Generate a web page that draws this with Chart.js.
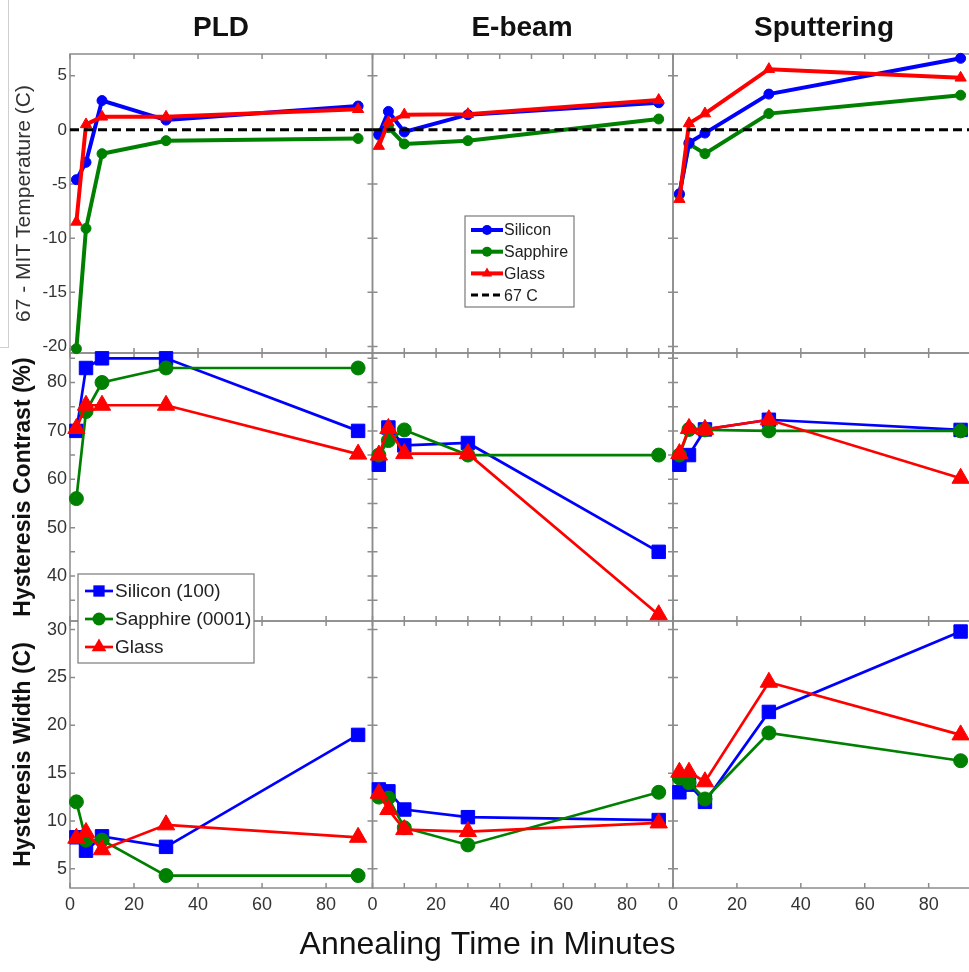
<!DOCTYPE html>
<html>
<head>
<meta charset="utf-8">
<script src="https://cdn.jsdelivr.net/npm/chart.js@4.4.1/dist/chart.umd.min.js"></script>
<style>
  body { margin: 0; background: #fff; overflow: hidden; }
  #wrap { position: relative; width: 969px; height: 972px; overflow: hidden; }
  #figChart { position: absolute; left: 0; top: 0; }
  #edge { position: absolute; left: 0; top: 0; width: 8px; height: 347px;
    border-right: 1px solid #cfcfcf; border-bottom: 1px solid #cfcfcf; }
  .colTitle {
    position: absolute; top: 13px; width: 300px; text-align: center;
    font: bold 28px "Liberation Sans", Arial, sans-serif; line-height: 28px; color: #111;
  }
</style>
</head>
<body>
<div id="wrap">
  <div id="edge"></div>
  <!-- the right-hand panel runs past the picture edge, as in the source figure -->
  <canvas id="figChart" width="976" height="972"></canvas>
  <div class="colTitle" style="left:71px">PLD</div>
  <div class="colTitle" style="left:372px">E-beam</div>
  <div class="colTitle" style="left:674px">Sputtering</div>
</div>
<script>
// annealing times (minutes)
const times = [2, 5, 10, 30, 90];
const methods = ['PLD', 'E-beam', 'Sputtering'];

// 67 - MIT temperature (C), one row per method: PLD, E-beam, Sputtering
const mitSilicon = [
	[-4.6, -3.0, 2.7, 0.9, 2.2],
	[-0.4, 1.7, -0.2, 1.4, 2.5],
	[-5.9, -1.2, -0.3, 3.3, 6.6],
];
const mitSapphire = [
	[-20.2, -9.1, -2.2, -1.0, -0.8],
	[-0.5, 0.2, -1.3, -1.0, 1.0],
	[-6.0, -1.3, -2.2, 1.5, 3.2],
];
const mitGlass = [
	[-8.5, 0.5, 1.2, 1.2, 1.9],
	[-1.5, 0.7, 1.4, 1.45, 2.75],
	[-6.4, 0.6, 1.5, 5.6, 4.8],
];
const refLevel = 0; // 67 C line

// hysteresis contrast (%)
const contrastSilicon = [
	[70, 83, 85, 85, 70],
	[63, 70.7, 67, 67.5, 45],
	[63, 65, 70.3, 72.3, 70.2],
];
const contrastSapphire = [
	[56, 74, 80, 83, 83],
	[65, 68, 70.2, 65, 65],
	[65, 70.3, 70.2, 70, 70],
];
const contrastGlass = [
	[70.5, 75.3, 75.3, 75.3, 65.2],
	[65, 70.5, 65.3, 65.3, 32],
	[65.3, 70.5, 70.3, 72.3, 60.2],
];

// hysteresis width (C)
const widthSilicon = [
	[8.3, 6.9, 8.4, 7.3, 19],
	[13.3, 13.1, 11.2, 10.4, 10.1],
	[13, 13.8, 12, 21.4, 29.8],
];
const widthSapphire = [
	[12, 8, 8, 4.3, 4.3],
	[12.5, 12.4, 9.3, 7.5, 13],
	[14.5, 14, 12.3, 19.2, 16.3],
];
const widthGlass = [
	[8.2, 8.8, 7.0, 9.6, 8.3],
	[12.9, 11.2, 9.1, 8.9, 9.8],
	[15.1, 15.1, 14.1, 24.5, 19],
];

const xMax = [94.5, 94.5, 94.5];

const BLUE = '#0000ff', GREEN = '#008000', RED = '#ff0000';
const xIds = ['x1', 'x2', 'x3'];

function series(values, label, color, style, yId, lw, radius, order) {
	return values.map((vals, m) => ({
		type: 'line',
		label: label,
		xAxisID: xIds[m],
		yAxisID: yId,
		data: times.map((t, i) => ({ x: t, y: vals[i] })),
		borderColor: color,
		backgroundColor: color,
		pointBackgroundColor: color,
		pointBorderColor: color,
		pointBorderWidth: 1,
		borderWidth: lw,
		pointStyle: style,
		pointRadius: radius,
		clip: false,
		order: order,
	}));
}

let datasets = [];
datasets = datasets.concat(series(mitSilicon, 'Silicon', BLUE, 'circle', 'y1', 4, 5, 2));
datasets = datasets.concat(series(mitSapphire, 'Sapphire', GREEN, 'circle', 'y1', 4, 5, 3));
datasets = datasets.concat(series(mitGlass, 'Glass', RED, 'triangle', 'y1', 4, 6.5, 1));
xIds.forEach((xid, m) => {
	datasets.push({
		type: 'line',
		label: '67 C',
		xAxisID: xid,
		yAxisID: 'y1',
		data: [{ x: 0, y: refLevel }, { x: xMax[m], y: refLevel }],
		borderColor: '#000',
		borderWidth: 3,
		borderDash: [9, 5],
		pointRadius: 0,
		clip: false,
		order: 0,
	});
});
datasets = datasets.concat(series(contrastSilicon, 'Silicon (100)', BLUE, 'rect', 'y2', 2.7, 9.5, 3));
datasets = datasets.concat(series(contrastSapphire, 'Sapphire (0001)', GREEN, 'circle', 'y2', 2.7, 7, 2));
datasets = datasets.concat(series(contrastGlass, 'Glass', RED, 'triangle', 'y2', 2.7, 10, 1));
datasets = datasets.concat(series(widthSilicon, 'Silicon (100)', BLUE, 'rect', 'y3', 2.7, 9.5, 3));
datasets = datasets.concat(series(widthSapphire, 'Sapphire (0001)', GREEN, 'circle', 'y3', 2.7, 7, 2));
datasets = datasets.concat(series(widthGlass, 'Glass', RED, 'triangle', 'y3', 2.7, 10, 1));

Chart.defaults.font.family = '"Liberation Sans", Arial, sans-serif';
Chart.defaults.color = '#222';

function xAxis(i, step, weight) {
	return {
		type: 'linear',
		position: 'bottom',
		stack: 'cols',
		stackWeight: weight,
		weight: i + 1,
		min: 0,
		max: xMax[i],
		grid: { display: false, drawTicks: false },
		border: { display: false },
		ticks: {
			stepSize: step,
			includeBounds: false,
			autoSkip: false,
			maxRotation: 0,
			padding: 6,
			color: '#333',
			font: { size: 18 },
			callback: (v) => (v % 20 === 0 ? v : ''),
		},
		afterFit: (s) => { s.height = 37.6; s.paddingLeft = 0; s.paddingRight = 0; },
	};
}

function yAxis(weightOrder, stackWeight, min, max, step, labelEvery, title, bold, size, tickSize) {
	return {
		type: 'linear',
		position: 'left',
		stack: 'rows',
		stackWeight: stackWeight,
		weight: weightOrder,
		min: min,
		max: max,
		grid: { display: false, drawTicks: false },
		border: { display: false },
		ticks: {
			stepSize: step,
			includeBounds: false,
			autoSkip: false,
			padding: 3,
			color: '#333',
			font: { size: tickSize },
			callback: (v) => (v % labelEvery === 0 ? v : ''),
		},
		title: {
			display: true,
			text: title,
			color: bold ? '#111' : '#333',
			font: { size: size, weight: bold ? 'bold' : 'normal' },
			padding: { top: bold ? 10.2 : 11.4, bottom: 0 },
		},
		afterFit: (s) => { s.width = 70; },
	};
}

// panel frames with inward ticks on every side
const framePlugin = {
	id: 'frames',
	beforeDatasetsDraw(chart) {
		const ctx = chart.ctx;
		ctx.save();
		ctx.strokeStyle = '#8c8c8c';
		ctx.lineWidth = 1.5;
		['x1', 'x2', 'x3'].forEach((xid) => {
			['y1', 'y2', 'y3'].forEach((yid) => {
				const xs = chart.scales[xid];
				const ys = chart.scales[yid];
				ctx.strokeRect(xs.left, ys.top, xs.right - xs.left, ys.bottom - ys.top);
				ctx.beginPath();
				xs.ticks.forEach((t) => {
					const px = xs.getPixelForValue(t.value);
					ctx.moveTo(px, ys.bottom); ctx.lineTo(px, ys.bottom - 5);
					ctx.moveTo(px, ys.top); ctx.lineTo(px, ys.top + 5);
				});
				ys.ticks.forEach((t) => {
					const py = ys.getPixelForValue(t.value);
					ctx.moveTo(xs.left, py); ctx.lineTo(xs.left + 5, py);
					ctx.moveTo(xs.right, py); ctx.lineTo(xs.right - 5, py);
				});
				ctx.stroke();
			});
		});
		ctx.restore();
	},
};

function marker(ctx, style, x, y, r) {
	ctx.beginPath();
	if (style === 'circle') {
		ctx.arc(x, y, r, 0, Math.PI * 2);
	} else if (style === 'rect') {
		const s = Math.SQRT1_2 * r;
		ctx.rect(x - s, y - s, 2 * s, 2 * s);
	} else if (style === 'triangle') {
		for (let k = 0; k < 3; k++) {
			const a = k * 2 * Math.PI / 3;
			const px = x + Math.sin(a) * r, py = y - Math.cos(a) * r;
			if (k === 0) ctx.moveTo(px, py); else ctx.lineTo(px, py);
		}
		ctx.closePath();
	}
	ctx.fill();
}

function drawLegend(ctx, box, items, o) {
	ctx.save();
	ctx.fillStyle = '#fff';
	ctx.fillRect(box.x, box.y, box.w, box.h);
	ctx.strokeStyle = '#7a7a7a';
	ctx.lineWidth = 1.2;
	ctx.strokeRect(box.x, box.y, box.w, box.h);
	items.forEach((it, i) => {
		const y = box.y + o.first + i * o.gap;
		ctx.strokeStyle = it.color;
		ctx.fillStyle = it.color;
		ctx.lineWidth = it.dash ? 3 : o.lw;
		ctx.setLineDash(it.dash ? [7, 4] : []);
		ctx.beginPath();
		ctx.moveTo(box.x + o.l0, y);
		ctx.lineTo(box.x + o.l1, y);
		ctx.stroke();
		ctx.setLineDash([]);
		if (it.style) marker(ctx, it.style, box.x + (o.l0 + o.l1) / 2, y, it.r);
		ctx.fillStyle = '#222';
		ctx.font = o.font;
		ctx.textBaseline = 'middle';
		ctx.textAlign = 'left';
		ctx.fillText(it.label, box.x + o.tx, y + 1);
	});
	ctx.restore();
}

const legendPlugin = {
	id: 'panelLegends',
	afterDatasetsDraw(chart) {
		const ctx = chart.ctx;
		const x1 = chart.scales.x1, x2 = chart.scales.x2, y1 = chart.scales.y1, y2 = chart.scales.y2;
		drawLegend(ctx, { x: x2.left + 92.5, y: y1.top + 162, w: 109, h: 91 }, [
			{ label: 'Silicon', color: BLUE, style: 'circle', r: 5 },
			{ label: 'Sapphire', color: GREEN, style: 'circle', r: 5 },
			{ label: 'Glass', color: RED, style: 'triangle', r: 6 },
			{ label: '67 C', color: '#000', dash: true },
		], { first: 14, gap: 21.7, l0: 6, l1: 38, tx: 39, lw: 4, font: '16px "Liberation Sans", Arial, sans-serif' });
		drawLegend(ctx, { x: x1.left + 8, y: y2.top + 221, w: 176, h: 89 }, [
			{ label: 'Silicon (100)', color: BLUE, style: 'rect', r: 8 },
			{ label: 'Sapphire (0001)', color: GREEN, style: 'circle', r: 6.5 },
			{ label: 'Glass', color: RED, style: 'triangle', r: 8.5 },
		], { first: 17, gap: 28, l0: 7, l1: 35, tx: 37, lw: 2.7, font: '19px "Liberation Sans", Arial, sans-serif' });
	},
};

const ctx = document.getElementById('figChart').getContext('2d');
const figChart = new Chart(ctx, {
	data: { datasets: datasets },
	options: {
		responsive: false,
		devicePixelRatio: 1,
		animation: false,
		layout: { autoPadding: false, padding: { top: 54, left: 0, right: 1, bottom: 0 } },
		plugins: {
			legend: { display: false },
			tooltip: { enabled: false },
			title: {
				display: true,
				position: 'bottom',
				text: 'Annealing Time in Minutes',
				color: '#111',
				font: { size: 32, weight: 'normal' },
				padding: { top: 0, bottom: 8 },
			},
		},
		scales: {
			x1: xAxis(0, 20, 302.5),
			x2: xAxis(1, 10, 300.5),
			x3: xAxis(2, 20, 302),
			y1: yAxis(3, 299, -20.6, 7, 5, 5, '67 - MIT Temperature (C)', false, 21, 17),
			y2: yAxis(2, 268, 30.7, 86.1, 5, 10, 'Hysteresis Contrast (%)', true, 23, 18),
			y3: yAxis(1, 267, 3.0, 30.9, 5, 5, 'Hysteresis Width (C)', true, 23, 18),
		},
	},
	plugins: [framePlugin, legendPlugin],
});
</script>
</body>
</html>
